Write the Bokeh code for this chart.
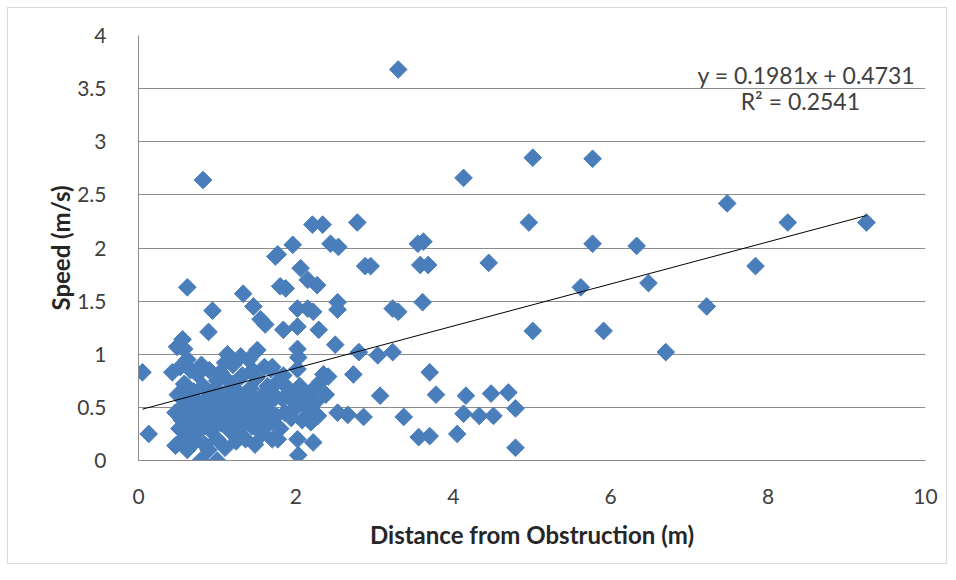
from bokeh.plotting import figure
from bokeh.models import Label, Range1d, FixedTicker
from bokeh.embed import file_html
from bokeh.resources import INLINE
import numpy as np

# Distance from obstruction (m), speed (m/s)
distance = [
    3.30, 0.82, 4.13, 5.01, 5.77, 7.48, 8.25, 9.25, 4.96, 5.77, 6.33, 5.62, 6.48, 7.84, 4.45,
    5.01, 5.91, 7.22, 6.70,
    3.70, 3.78, 4.16, 4.48, 4.70, 4.13, 4.33, 4.51, 4.79, 4.05, 4.79,
    2.21, 2.34, 2.78, 1.96, 2.44, 2.54, 3.55, 3.62, 1.77, 2.88, 2.95, 3.58, 3.68, 2.06,
    2.15, 2.27, 1.80, 1.87, 2.53, 2.53, 2.02, 2.15, 2.22, 3.23, 3.30, 3.61, 1.84, 2.02,
    2.29, 2.50, 2.02, 2.03, 2.80, 3.04, 3.23, 2.35, 2.41, 2.73, 3.07, 2.53, 2.66, 2.86,
    3.37, 3.56, 3.70, 1.77, 2.02, 2.03, 2.22, 2.19, 2.10, 1.93, 2.22, 2.31, 1.84, 2.02, 1.68,
    1.74, 0.62, 1.33, 0.94, 1.46, 1.55, 1.61, 0.89, 0.56,
    0.05, 0.13, 0.58, 1.13, 0.79, 1.00,
    0.43, 0.47, 0.47, 0.49, 0.50, 0.52, 0.53, 0.55, 0.56, 0.58, 0.60, 0.60, 0.62, 0.63, 0.65,
    0.66, 0.68, 0.70, 0.72, 0.73, 0.75, 0.76, 0.78, 0.80, 0.82, 0.84, 0.86, 0.88, 0.89, 0.90,
    0.92, 0.94, 0.96, 0.98, 1.00, 1.02, 1.04, 1.05, 1.08, 1.10, 1.12, 1.14, 1.16, 1.18, 1.20,
    1.22, 1.24, 1.26, 1.28, 1.30, 1.32, 1.34, 1.36, 1.38, 1.40, 1.42, 1.44, 1.46, 1.48, 1.50,
    1.51, 1.52, 1.55, 1.57, 1.60, 1.62, 1.64, 1.66, 1.68, 1.70, 1.70, 1.72, 1.75, 1.78, 1.80,
    1.83, 1.86, 1.90, 1.94, 1.97, 2.00, 2.05, 2.08, 2.12, 2.16, 2.25, 2.28, 2.38,
    0.65, 0.72, 0.85, 0.95, 1.05, 1.15, 1.25, 1.35, 1.45, 1.55, 1.65, 0.55, 0.75, 0.95, 1.15,
    1.35, 1.55, 0.70, 1.00, 1.20, 0.80, 1.10, 0.62, 1.45, 1.30,
]
speed = [
    3.68, 2.64, 2.66, 2.85, 2.84, 2.42, 2.24, 2.24, 2.24, 2.04, 2.02, 1.63, 1.67, 1.83, 1.86,
    1.22, 1.22, 1.45, 1.02,
    0.83, 0.62, 0.61, 0.63, 0.64, 0.44, 0.42, 0.42, 0.49, 0.25, 0.12,
    2.22, 2.22, 2.24, 2.03, 2.04, 2.01, 2.04, 2.06, 1.94, 1.83, 1.83, 1.84, 1.84, 1.81,
    1.70, 1.65, 1.64, 1.62, 1.49, 1.42, 1.43, 1.43, 1.40, 1.43, 1.40, 1.49, 1.23, 1.26,
    1.23, 1.09, 1.05, 0.97, 1.02, 0.99, 1.02, 0.81, 0.79, 0.81, 0.61, 0.45, 0.43, 0.41,
    0.41, 0.22, 0.23, 0.20, 0.20, 0.05, 0.17, 0.36, 0.55, 0.58, 0.67, 0.74, 0.80, 0.86, 0.86,
    1.92, 1.63, 1.57, 1.41, 1.45, 1.33, 1.28, 1.21, 1.14,
    0.83, 0.25, 1.05, 1.00, 0.00, 0.00,
    0.83, 0.45, 0.14, 1.07, 0.62, 0.30, 0.88, 0.50, 0.20, 0.72, 0.40, 0.71, 0.10, 0.55, 0.28,
    0.85, 0.45, 0.65, 0.18, 0.38, 0.81, 0.55, 0.28, 0.48, 0.70, 0.15, 0.38, 0.60, 0.10, 0.85,
    0.28, 0.50, 0.42, 0.68, 0.20, 0.55, 0.83, 0.35, 0.62, 0.12, 0.45, 0.75, 0.28, 0.55, 0.90,
    0.40, 0.18, 0.65, 0.50, 0.30, 0.80, 0.58, 0.20, 0.42, 0.95, 0.68, 0.32, 0.52, 0.15, 0.78,
    1.04, 0.40, 0.60, 0.25, 0.88, 0.48, 0.70, 0.35, 0.55, 0.20, 0.88, 0.62, 0.42, 0.75, 0.30,
    0.58, 0.45, 0.68, 0.40, 0.60, 0.50, 0.70, 0.38, 0.62, 0.48, 0.55, 0.42, 0.62,
    0.62, 0.52, 0.55, 0.62, 0.48, 0.62, 0.55, 0.48, 0.60, 0.45, 0.62, 0.38, 0.40, 0.32, 0.38,
    0.35, 0.35, 0.30, 0.75, 0.72, 0.90, 0.92, 0.95, 0.85, 0.98,
]

# Linear trendline as reported on the chart
slope = 0.1981
intercept = 0.4731
r_squared = 0.2541

x_ticks = [0, 2, 4, 6, 8, 10]
y_ticks = [0, 0.5, 1, 1.5, 2, 2.5, 3, 3.5, 4]

FONT = "Lato"
BLUE = "#4a7ebb"

p = figure(width=940, height=557, output_backend="svg", toolbar_location=None,
           x_range=Range1d(0, 10), y_range=Range1d(0, 4),
           min_border_left=130, min_border_right=23, min_border_top=27, min_border_bottom=105)
p.styles = {"margin-left": "7px", "margin-top": "7px", "border": "1px solid #d9d9d9"}
p.outline_line_color = None
p.background_fill_color = "white"
p.border_fill_color = "white"

p.xgrid.grid_line_color = None
p.ygrid.grid_line_color = "#8c8c8c"
p.ygrid.grid_line_width = 1

p.xaxis.ticker = FixedTicker(ticks=x_ticks)
p.yaxis.ticker = FixedTicker(ticks=y_ticks)
p.yaxis.formatter.use_scientific = False
for ax in (p.xaxis, p.yaxis):
    ax.axis_line_color = "#8c8c8c"
    ax.axis_line_width = 1
    ax.major_tick_line_color = None
    ax.minor_tick_line_color = None
    ax.major_label_text_font = FONT
    ax.major_label_text_font_size = "21px"
    ax.major_label_text_color = "#404040"
    ax.axis_label_text_font = FONT
    ax.axis_label_text_font_style = "bold"
    ax.axis_label_text_font_size = "24px"
    ax.axis_label_text_color = "#262626"
p.xaxis.major_label_standoff = 22
p.yaxis.major_label_standoff = 26
p.xaxis.axis_label = "Distance from Obstruction (m)"
p.yaxis.axis_label = "Speed (m/s)"
p.xaxis.axis_label_standoff = 13
p.yaxis.axis_label_standoff = -1

p.scatter(distance, speed, marker="square", angle=np.pi / 4, size=12.5,
          fill_color=BLUE, line_color=BLUE)

xs = np.array([min(distance), max(distance)])
p.line(xs, slope * xs + intercept, line_color="#000000", line_width=1)

p.add_layout(Label(x=9.87, y=3.63, text=f"y = {slope}x + {intercept}", text_align="right",
                   text_baseline="middle", text_font=FONT, text_font_size="23px",
                   text_color="#404040"))
p.add_layout(Label(x=8.41, y=3.38, text=f"R² = {r_squared}", text_align="center",
                   text_baseline="middle", text_font=FONT, text_font_size="23px",
                   text_color="#404040"))

open("out.html", "w").write(file_html(p, INLINE))
